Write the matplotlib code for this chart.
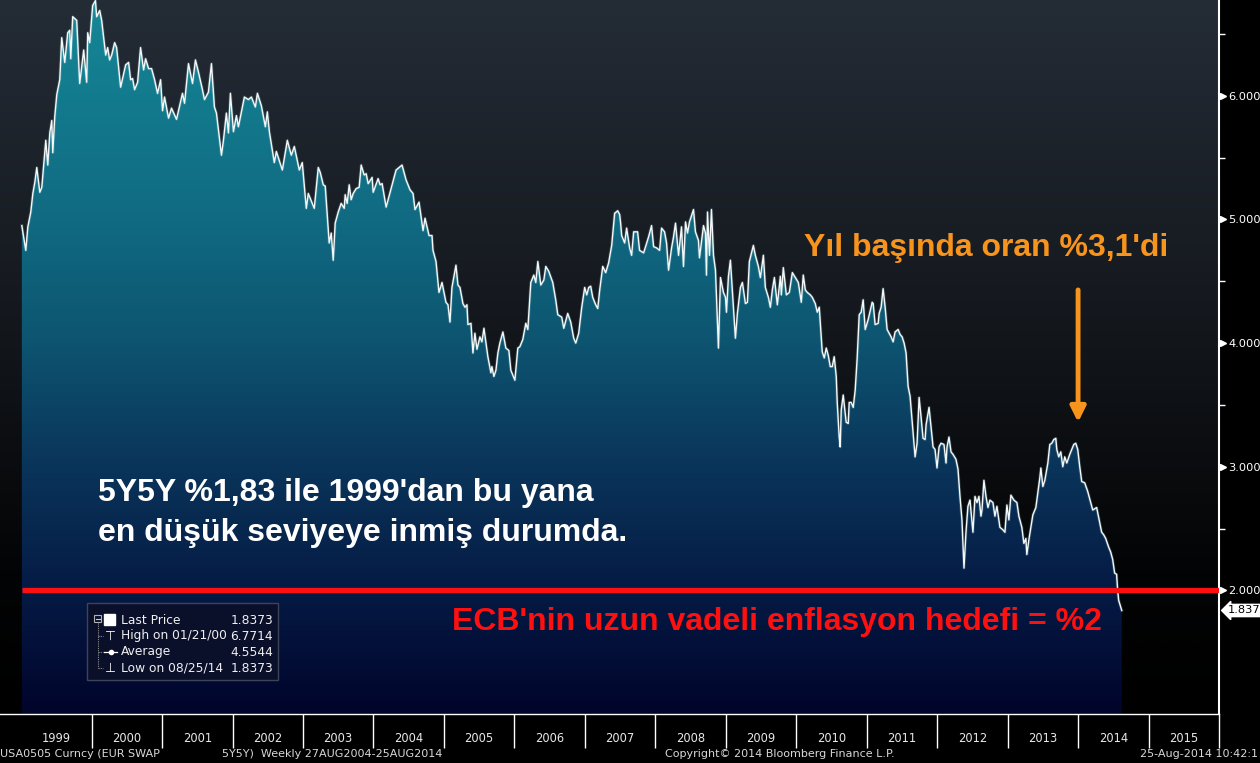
import numpy as np
import matplotlib
matplotlib.use('Agg')
import matplotlib.pyplot as plt
from matplotlib.colors import LinearSegmentedColormap
from matplotlib.patches import Polygon, Rectangle
from matplotlib.lines import Line2D
from matplotlib.transforms import Affine2D, blended_transform_factory

# weekly 5Y5Y EUR swap rate
dates = [
    1999.010, 1999.066, 1999.095, 1999.137, 1999.166, 1999.194, 1999.222, 1999.265, 1999.293, 1999.350,
    1999.378, 1999.407, 1999.435, 1999.449, 1999.477, 1999.506, 1999.548, 1999.576, 1999.619, 1999.661,
    1999.690, 1999.704, 1999.732, 1999.789, 1999.831, 1999.888, 1999.930, 1999.945, 1999.973, 2000.015,
    2000.055, 2000.072, 2000.115, 2000.143, 2000.200, 2000.228, 2000.256, 2000.285, 2000.327, 2000.355,
    2000.412, 2000.483, 2000.525, 2000.554, 2000.582, 2000.610, 2000.653, 2000.695, 2000.738, 2000.766,
    2000.809, 2000.851, 2000.894, 2000.936, 2000.979, 2001.007, 2001.035, 2001.092, 2001.134, 2001.205,
    2001.290, 2001.319, 2001.375, 2001.432, 2001.474, 2001.517, 2001.573, 2001.602, 2001.658, 2001.701,
    2001.743, 2001.772, 2001.843, 2001.871, 2001.913, 2001.942, 2001.970, 2002.013, 2002.055, 2002.083,
    2002.112, 2002.168, 2002.225, 2002.268, 2002.324, 2002.353, 2002.409, 2002.466, 2002.494, 2002.523,
    2002.593, 2002.622, 2002.707, 2002.778, 2002.834, 2002.877, 2002.948, 2002.990, 2003.047, 2003.075,
    2003.160, 2003.217, 2003.245, 2003.288, 2003.316, 2003.372, 2003.401, 2003.429, 2003.457, 2003.500,
    2003.542, 2003.585, 2003.599, 2003.627, 2003.656, 2003.684, 2003.712, 2003.755, 2003.797, 2003.826,
    2003.868, 2003.897, 2003.925, 2003.981, 2003.996, 2004.066, 2004.095, 2004.123, 2004.180, 2004.250,
    2004.321, 2004.364, 2004.406, 2004.463, 2004.519, 2004.562, 2004.590, 2004.647, 2004.704, 2004.732,
    2004.789, 2004.831, 2004.845, 2004.888, 2004.930, 2004.973, 2005.029, 2005.058, 2005.086, 2005.114,
    2005.171, 2005.199, 2005.228, 2005.270, 2005.299, 2005.327, 2005.341, 2005.384, 2005.412, 2005.440,
    2005.469, 2005.511, 2005.539, 2005.568, 2005.624, 2005.667, 2005.681, 2005.709, 2005.738, 2005.766,
    2005.794, 2005.837, 2005.879, 2005.922, 2005.950, 2006.007, 2006.049, 2006.077, 2006.120, 2006.162,
    2006.191, 2006.233, 2006.276, 2006.304, 2006.333, 2006.375, 2006.418, 2006.446, 2006.488, 2006.545,
    2006.587, 2006.616, 2006.672, 2006.701, 2006.757, 2006.800, 2006.842, 2006.871, 2006.913, 2006.956,
    2006.998, 2007.027, 2007.055, 2007.083, 2007.112, 2007.154, 2007.183, 2007.211, 2007.254, 2007.296,
    2007.338, 2007.381, 2007.423, 2007.466, 2007.494, 2007.508, 2007.523, 2007.565, 2007.593, 2007.636,
    2007.664, 2007.693, 2007.749, 2007.777, 2007.834, 2007.862, 2007.905, 2007.947, 2007.976, 2008.018,
    2008.061, 2008.089, 2008.131, 2008.160, 2008.188, 2008.231, 2008.259, 2008.287, 2008.330, 2008.372,
    2008.400, 2008.429, 2008.457, 2008.485, 2008.542, 2008.570, 2008.613, 2008.627, 2008.684, 2008.712,
    2008.726, 2008.741, 2008.769, 2008.797, 2008.826, 2008.854, 2008.896, 2008.925, 2008.967, 2008.996,
    2009.010, 2009.038, 2009.066, 2009.095, 2009.137, 2009.165, 2009.208, 2009.236, 2009.279, 2009.307,
    2009.335, 2009.392, 2009.420, 2009.463, 2009.491, 2009.534, 2009.562, 2009.605, 2009.633, 2009.661,
    2009.690, 2009.732, 2009.775, 2009.789, 2009.817, 2009.860, 2009.902, 2009.945, 2009.987, 2010.030,
    2010.072, 2010.100, 2010.129, 2010.157, 2010.200, 2010.228, 2010.270, 2010.299, 2010.327, 2010.355,
    2010.369, 2010.398, 2010.426, 2010.455, 2010.483, 2010.511, 2010.539, 2010.568, 2010.582, 2010.610,
    2010.624, 2010.639, 2010.667, 2010.709, 2010.738, 2010.752, 2010.780, 2010.809, 2010.837, 2010.865,
    2010.894, 2010.922, 2010.950, 2010.979, 2011.021, 2011.078, 2011.092, 2011.120, 2011.163, 2011.177,
    2011.205, 2011.233, 2011.262, 2011.290, 2011.347, 2011.375, 2011.403, 2011.446, 2011.474, 2011.503,
    2011.531, 2011.559, 2011.588, 2011.616, 2011.644, 2011.687, 2011.715, 2011.744, 2011.772, 2011.800,
    2011.829, 2011.843, 2011.885, 2011.913, 2011.942, 2011.970, 2011.998, 2012.027, 2012.055, 2012.097,
    2012.126, 2012.140, 2012.168, 2012.197, 2012.225, 2012.267, 2012.296, 2012.324, 2012.352, 2012.381,
    2012.409, 2012.437, 2012.466, 2012.508, 2012.537, 2012.565, 2012.593, 2012.622, 2012.636, 2012.664,
    2012.693, 2012.721, 2012.749, 2012.792, 2012.820, 2012.848, 2012.891, 2012.933, 2012.962, 2012.990,
    2013.018, 2013.047, 2013.089, 2013.132, 2013.160, 2013.202, 2013.231, 2013.259, 2013.273, 2013.302,
    2013.330, 2013.358, 2013.401, 2013.429, 2013.457, 2013.472, 2013.500, 2013.528, 2013.571, 2013.599,
    2013.627, 2013.656, 2013.684, 2013.698, 2013.726, 2013.755, 2013.783, 2013.811, 2013.840, 2013.882,
    2013.910, 2013.939, 2013.967, 2013.995, 2014.024, 2014.052, 2014.094, 2014.137, 2014.179, 2014.208,
    2014.264, 2014.293, 2014.335, 2014.363, 2014.392, 2014.434, 2014.463, 2014.491, 2014.519, 2014.547,
    2014.562, 2014.576, 2014.620,
]
rates = [
    4.95, 4.75, 4.94, 5.06, 5.21, 5.30, 5.42, 5.22, 5.26, 5.64,
    5.44, 5.70, 5.80, 5.54, 5.83, 6.01, 6.13, 6.47, 6.27, 6.51,
    6.53, 6.30, 6.64, 6.61, 6.10, 6.37, 6.11, 6.51, 6.43, 6.73,
    6.77, 6.64, 6.69, 6.61, 6.33, 6.39, 6.29, 6.33, 6.43, 6.39,
    6.07, 6.25, 6.27, 6.13, 6.14, 6.05, 6.11, 6.39, 6.21, 6.30,
    6.22, 6.22, 6.13, 6.02, 6.13, 5.88, 5.99, 5.82, 5.90, 5.81,
    6.02, 5.94, 6.26, 6.10, 6.29, 6.19, 6.05, 5.97, 6.03, 6.26,
    5.91, 5.86, 5.52, 5.64, 5.86, 5.70, 6.02, 5.71, 5.84, 5.75,
    5.83, 5.99, 5.97, 5.99, 5.91, 6.02, 5.92, 5.75, 5.87, 5.71,
    5.46, 5.55, 5.40, 5.64, 5.52, 5.59, 5.40, 5.46, 5.09, 5.21,
    5.09, 5.42, 5.38, 5.28, 5.27, 4.81, 4.89, 4.67, 4.97, 5.06,
    5.13, 5.09, 5.20, 5.13, 5.28, 5.16, 5.21, 5.25, 5.26, 5.44,
    5.36, 5.37, 5.29, 5.34, 5.22, 5.33, 5.28, 5.29, 5.10, 5.25,
    5.40, 5.42, 5.44, 5.32, 5.24, 5.21, 5.08, 5.14, 4.91, 5.01,
    4.87, 4.87, 4.75, 4.66, 4.41, 4.49, 4.33, 4.31, 4.17, 4.45,
    4.63, 4.47, 4.45, 4.32, 4.29, 4.31, 4.15, 4.16, 3.92, 4.08,
    3.95, 4.05, 4.01, 4.12, 3.89, 3.76, 3.81, 3.73, 3.78, 3.92,
    4.00, 4.09, 3.96, 3.94, 3.78, 3.70, 3.96, 3.97, 4.03, 4.16,
    4.11, 4.49, 4.55, 4.49, 4.66, 4.47, 4.51, 4.62, 4.58, 4.49,
    4.35, 4.23, 4.21, 4.12, 4.24, 4.17, 4.04, 4.00, 4.08, 4.29,
    4.45, 4.39, 4.45, 4.46, 4.37, 4.31, 4.28, 4.43, 4.62, 4.57,
    4.65, 4.79, 5.05, 5.07, 5.04, 4.97, 4.87, 4.81, 4.93, 4.77,
    4.71, 4.90, 4.90, 4.75, 4.73, 4.78, 4.86, 4.95, 4.78, 4.77,
    4.75, 4.93, 4.90, 4.81, 4.59, 4.77, 4.86, 4.97, 4.71, 4.94,
    4.62, 4.98, 4.89, 4.98, 5.08, 4.90, 4.83, 4.69, 4.95, 4.89,
    4.55, 5.06, 4.71, 5.08, 4.71, 4.59, 3.96, 4.53, 4.41, 4.37,
    4.25, 4.54, 4.67, 4.41, 4.04, 4.24, 4.45, 4.49, 4.32, 4.33,
    4.66, 4.79, 4.71, 4.62, 4.53, 4.71, 4.45, 4.37, 4.29, 4.43,
    4.53, 4.31, 4.54, 4.39, 4.61, 4.39, 4.41, 4.57, 4.53, 4.49,
    4.33, 4.55, 4.43, 4.41, 4.39, 4.37, 4.32, 4.25, 4.29, 4.05,
    3.93, 3.88, 3.96, 3.90, 3.81, 3.81, 3.89, 3.73, 3.52, 3.24,
    3.16, 3.46, 3.58, 3.36, 3.35, 3.52, 3.52, 3.48, 3.62, 3.88,
    4.23, 4.25, 4.35, 4.11, 4.19, 4.33, 4.32, 4.15, 4.16, 4.24,
    4.29, 4.44, 4.29, 4.11, 4.05, 4.01, 4.09, 4.11, 4.07, 4.05,
    4.00, 3.92, 3.65, 3.57, 3.38, 3.08, 3.19, 3.56, 3.40, 3.23,
    3.22, 3.34, 3.48, 3.32, 3.16, 3.14, 2.99, 3.16, 3.19, 3.18,
    3.03, 3.16, 3.24, 3.12, 3.10, 3.06, 2.98, 2.76, 2.57, 2.18,
    2.47, 2.68, 2.73, 2.47, 2.76, 2.71, 2.76, 2.60, 2.65, 2.89,
    2.76, 2.67, 2.73, 2.71, 2.60, 2.68, 2.51, 2.49, 2.47, 2.69,
    2.57, 2.77, 2.73, 2.71, 2.60, 2.51, 2.38, 2.42, 2.29, 2.41,
    2.51, 2.61, 2.67, 2.79, 2.91, 2.99, 2.84, 2.89, 3.03, 3.18,
    3.19, 3.22, 3.23, 3.14, 3.08, 3.12, 3.00, 3.08, 3.03, 3.10,
    3.14, 3.18, 3.19, 3.14, 3.00, 2.88, 2.87, 2.80, 2.71, 2.65,
    2.67, 2.59, 2.47, 2.45, 2.42, 2.35, 2.31, 2.25, 2.14, 2.13,
    2.00, 1.92, 1.8373,
]

years = list(range(1999, 2016))
y_major = [2, 3, 4, 5, 6]
y_minor = [2.5, 3.5, 4.5, 5.5, 6.5]
target = 2.0
last_price = 1.8373
legend_rows = [("Last Price", "1.8373"), ("High on 01/21/00", "6.7714"),
               ("Average", "4.5544"), ("Low on 08/25/14", "1.8373")]

W, H = 1260, 763
fig = plt.figure(figsize=(W / 100, H / 100), dpi=100)
fig.patch.set_facecolor('black')
# pixel coordinates of the picture (origin top-left), used for layout only
pix = Affine2D().scale(1 / W, -1 / H).translate(0, 1) + fig.transFigure

ax = fig.add_axes([0, 1 - 714 / H, 1219 / W, 714 / H])
x0, x1 = 1998.70, 2016.0
y0, y1 = 1.0, 6.775
ax.set_xlim(x0, x1)
ax.set_ylim(y0, y1)

# background gradient
bg = LinearSegmentedColormap.from_list('bg', [(0, '#000000'), (0.2, '#030405'),
                                              (0.6, '#161a20'), (1, '#242c36')])
ax.imshow(np.linspace(0, 1, 256).reshape(-1, 1), cmap=bg, extent=[x0, x1, y0, y1],
          aspect='auto', origin='lower', zorder=0)

# gradient area under the curve
fill_cmap = LinearSegmentedColormap.from_list('fill', [
    (0, '#01042b'), (0.17, '#051a44'), (0.35, '#0a355a'), (0.52, '#0d5470'),
    (0.69, '#106a82'), (0.87, '#137b8e'), (1, '#168797')])
verts = np.column_stack([np.r_[dates[0], dates, dates[-1]], np.r_[y0, rates, y0]])
poly = Polygon(verts, closed=True, transform=ax.transData, facecolor='none', edgecolor='none')
ax.add_patch(poly)
im = ax.imshow(np.linspace(0, 1, 256).reshape(-1, 1), cmap=fill_cmap, extent=[x0, x1, y0, y1],
               aspect='auto', origin='lower', zorder=1)
im.set_clip_path(poly)

ax.plot(dates, rates, color='#9fd8e0', lw=2.2, alpha=0.2, zorder=3)
ax.plot(dates, rates, color='#f4f8f8', lw=1.0, zorder=4)

# ECB target line
ax.hlines(target, dates[0], x1, color='#ff1010', lw=3.8, zorder=5)

# axes styling
for s in ['top', 'left']:
    ax.spines[s].set_visible(False)
ax.spines['right'].set_color('white')
ax.spines['right'].set_linewidth(1.5)
ax.spines['bottom'].set_color('white')
ax.spines['bottom'].set_linewidth(1.0)

ax.set_xticks(years[1:] + [2016])
ax.set_xticklabels([])
ax.set_xticks([y + 0.5 for y in years], minor=True)
ax.set_xticklabels([str(y) for y in years], minor=True)
ax.tick_params(axis='x', which='major', direction='out', length=24.5, width=1.0, color='white')
ax.tick_params(axis='x', which='minor', length=0, pad=13, labelsize=8.3, labelcolor='#e8e8e8')

ax.yaxis.tick_right()
ax.set_yticks(y_major)
ax.set_yticklabels(['%.3f' % v for v in y_major])
ax.set_yticks(y_minor, minor=True)
ax.tick_params(axis='y', which='major', length=0, pad=6.5, labelsize=8.2, labelcolor='white')
ax.tick_params(axis='y', which='minor', direction='out', length=4, width=1.0, color='white')

right = blended_transform_factory(ax.transAxes, ax.transData)
ax.plot([1 + 4 / 1219] * len(y_major), y_major, ls='none', marker='>', ms=4.5, color='white',
        transform=right, clip_on=False, zorder=6)
ax.text(1 + 9 / 1219, last_price, '1.837', transform=right, ha='left', va='center', fontsize=8.2,
        color='black', bbox=dict(boxstyle='larrow,pad=0.1', fc='white', ec='white'), zorder=6)

# annotations
bold = dict(fontsize=23, fontweight='bold', family='Liberation Sans', zorder=7)
ax.text(2012.69, 4.77, "Yıl başında oran %3,1'di", ha='center', va='center',
        color='#f7941d', **bold)
ax.annotate('', xy=(2014.0, 3.36), xytext=(2014.0, 4.43),
            arrowprops=dict(arrowstyle='-|>,head_length=0.9,head_width=0.45', lw=3.5,
                            color='#f7941d', shrinkA=0, shrinkB=0), zorder=7)
ax.text(2000.09, 2.79, "5Y5Y %1,83 ile 1999'dan bu yana", ha='left', va='center',
        color='white', **bold)
ax.text(2000.09, 2.46, "en düşük seviyeye inmiş durumda.", ha='left', va='center',
        color='white', **bold)
ax.text(2009.73, 1.745, "ECB'nin uzun vadeli enflasyon hedefi = %2", ha='center', va='center',
        color='#ff1010', **bold)

# legend box
fig.add_artist(Rectangle((87, 603), 191, 77, transform=pix, fc='#0a0f2a', ec='#3c4458', lw=1.0))
fig.add_artist(Rectangle((94, 615), 7, 7, transform=pix, fc='none', ec='#b0b0b0', lw=0.8))
fig.add_artist(Line2D([95.5, 99.5], [618.5, 618.5], transform=pix, color='#d0d0d0', lw=0.8))
fig.add_artist(Line2D([97.5, 97.5], [623, 668], transform=pix, color='#909090', lw=0.8, ls=(0, (1, 1))))
for yy in [636, 652, 668]:
    fig.add_artist(Line2D([97.5, 103], [yy, yy], transform=pix, color='#909090', lw=0.8, ls=(0, (1, 1))))
fig.add_artist(Rectangle((104, 614), 11, 11, transform=pix, fc='white', ec='white'))
fig.text(110, 636, '⊤', transform=pix, ha='center', va='center', fontsize=9, color='white')
fig.add_artist(Line2D([104, 117], [652, 652], transform=pix, color='white', lw=0.9))
fig.add_artist(Line2D([110.5], [652], transform=pix, color='white', marker='o', ms=3, ls='none'))
fig.text(110, 668, '⊥', transform=pix, ha='center', va='center', fontsize=9, color='white')
for i, (lab, val) in enumerate(legend_rows):
    yy = 620 + 16 * i
    fig.text(121, yy, lab, transform=pix, ha='left', va='center', fontsize=8.8, color='#f0f0f0')
    fig.text(273, yy, val, transform=pix, ha='right', va='center', fontsize=8.8, color='#f0f0f0')

# footer
foot = dict(transform=pix, va='center', fontsize=8.0, color='#d8d8d8')
fig.text(0, 754, 'USA0505 Curncy (EUR SWAP', ha='left', **foot)
fig.text(222, 754, '5Y5Y)  Weekly 27AUG2004-25AUG2014', ha='left', **foot)
fig.text(665, 754, 'Copyright© 2014 Bloomberg Finance L.P.', ha='left', **foot)
fig.text(1258, 754, '25-Aug-2014 10:42:1', ha='right', **foot)

fig.savefig('out.png', dpi=100, facecolor='black')
